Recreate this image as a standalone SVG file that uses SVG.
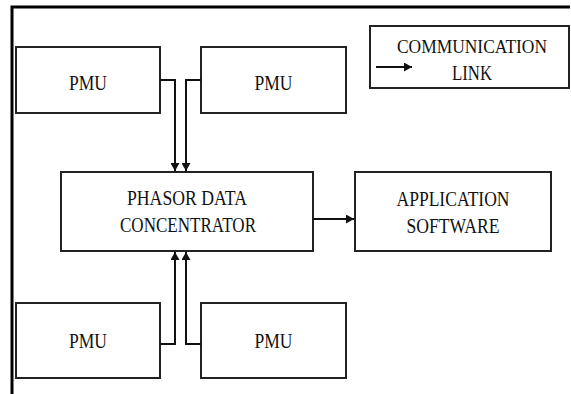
<svg xmlns="http://www.w3.org/2000/svg" width="571" height="394" viewBox="0 0 571 394">
<defs>
<marker id="ah" markerWidth="8" markerHeight="9" refX="8" refY="4.5" orient="auto" markerUnits="userSpaceOnUse">
<path d="M0,0 L8,4.5 L0,9 Z" fill="#111"/>
</marker>
<style>
.box{fill:#fff;stroke:#222;stroke-width:2}
.t{font-family:"Liberation Serif","DejaVu Serif",serif;font-size:21px;fill:#111;text-anchor:middle}
.s{font-size:18px}
.c{fill:none;stroke:#111;stroke-width:2}
</style>
</defs>
<rect width="571" height="394" fill="#fff"/>
<g id="frame">
<path d="M12,394 V7 H570" fill="none" stroke="#000" stroke-width="3"/>
</g>
<g id="pmu1"><rect class="box" x="16" y="47" width="144" height="66"/><text class="t" x="88" y="90" textLength="38" lengthAdjust="spacingAndGlyphs">PMU</text></g>
<g id="pmu2"><rect class="box" x="201" y="47" width="145" height="66"/><text class="t" x="273.5" y="90" textLength="38" lengthAdjust="spacingAndGlyphs">PMU</text></g>
<g id="pmu3"><rect class="box" x="16" y="303" width="144" height="75"/><text class="t" x="88" y="348" textLength="38" lengthAdjust="spacingAndGlyphs">PMU</text></g>
<g id="pmu4"><rect class="box" x="201" y="303" width="145" height="75"/><text class="t" x="273.5" y="348" textLength="38" lengthAdjust="spacingAndGlyphs">PMU</text></g>
<g id="pdc"><rect class="box" x="61" y="172" width="252" height="79"/>
<text class="t" x="187" y="205" textLength="120" lengthAdjust="spacingAndGlyphs">PHASOR DATA</text>
<text class="t" x="188" y="232" textLength="136" lengthAdjust="spacingAndGlyphs">CONCENTRATOR</text></g>
<g id="app"><rect class="box" x="355" y="172" width="196" height="79"/>
<text class="t" x="453" y="206" textLength="113" lengthAdjust="spacingAndGlyphs">APPLICATION</text>
<text class="t" x="453" y="233" textLength="93" lengthAdjust="spacingAndGlyphs">SOFTWARE</text></g>
<g id="legend"><rect class="box" x="370" y="26" width="199" height="62"/>
<text class="t s" x="472" y="53" textLength="150" lengthAdjust="spacingAndGlyphs">COMMUNICATION</text>
<text class="t" x="472" y="80" textLength="40" lengthAdjust="spacingAndGlyphs">LINK</text>
<line class="c" x1="376" y1="67" x2="412" y2="67" marker-end="url(#ah)"/></g>
<g id="connectors">
<path class="c" d="M160,80 H175 V171" marker-end="url(#ah)"/>
<path class="c" d="M201,80 H186 V171" marker-end="url(#ah)"/>
<path class="c" d="M160,344 H175 V252" marker-end="url(#ah)"/>
<path class="c" d="M201,344 H186 V252" marker-end="url(#ah)"/>
<path class="c" d="M313,219 H354" marker-end="url(#ah)"/>
</g>
</svg>
